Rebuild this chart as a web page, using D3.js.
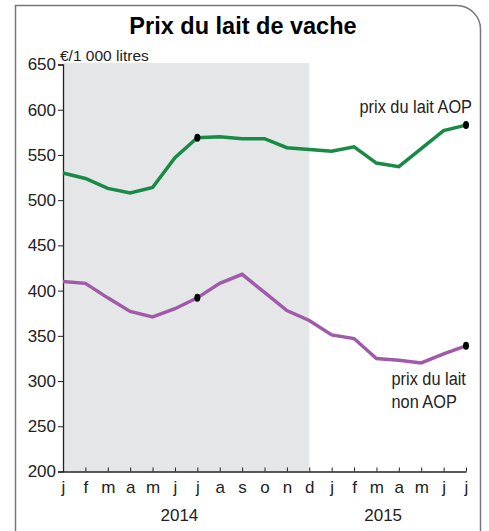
<!DOCTYPE html>
<html>
<head>
<meta charset="utf-8">
<script src="https://cdn.jsdelivr.net/npm/d3@7"></script>
<style>
  body { margin: 0; background: #fff; }
  svg { display: block; font-family: "Liberation Sans", Arial, sans-serif; }
</style>
</head>
<body>
<div id="chart"></div>
<script>
// Données
const months = ["j", "f", "m", "a", "m", "j", "j", "a", "s", "o", "n", "d", "j", "f", "m", "a", "m", "j", "j"];
const years = ["2014", "2015"];
const aop = [530, 524, 513, 508, 514, 547, 569, 570, 568, 568, 558, 556, 554, 559, 541, 537, 557, 577, 583];
const nonAop = [410, 408, 392, 377, 371, 380, 392, 408, 418, 398, 378, 367, 351, 347, 325, 323, 320, 330, 339];
const yTicks = [200, 250, 300, 350, 400, 450, 500, 550, 600, 650];

const width = 489;
const height = 531;

const svg = d3.select("#chart").append("svg")
  .attr("width", width)
  .attr("height", height);

// Cadre arrondi en haut à droite
const fx0 = 15.5, fx1 = 480.5, fy0 = 5.5, r = 24;
svg.append("path")
  .attr("d", `M${fx0},${height + 5} V${fy0} H${fx1 - r} A${r},${r} 0 0 1 ${fx1},${fy0 + r} V${height + 5}`)
  .attr("fill", "none")
  .attr("stroke", "#777")
  .attr("stroke-width", 1.5);

// Titre
svg.append("text")
  .attr("x", 243)
  .attr("y", 34)
  .attr("text-anchor", "middle")
  .attr("font-weight", "bold")
  .attr("font-size", 23.5)
  .text("Prix du lait de vache");

// Echelles
const x = d3.scaleLinear().domain([0, months.length - 1]).range([63, 466]);
const y = d3.scaleLinear().domain([200, 650]).range([471.5, 64.5]);

// Zone grisée 2014
svg.append("rect")
  .attr("x", x(0))
  .attr("y", y(650) - 1.5)
  .attr("width", x(11) - x(0))
  .attr("height", y(200) - y(650) + 1.5)
  .attr("fill", "#e5e6e8");

// Axe Y
const yAxis = svg.append("g")
  .attr("transform", `translate(${x(0)},0)`)
  .call(d3.axisLeft(y).tickValues(yTicks).tickSize(5).tickPadding(2));
yAxis.select(".domain").attr("stroke", "#222").attr("stroke-width", 1.3);
yAxis.selectAll(".tick line").attr("stroke", "#222");
yAxis.selectAll("text")
  .attr("font-size", 17)
  .attr("font-family", "Liberation Sans, Arial, sans-serif")
  .attr("fill", "#222");

svg.append("text")
  .attr("x", 60)
  .attr("y", 61)
  .attr("font-size", 15.5)
  .attr("fill", "#222")
  .text("€/1 000 litres");

// Axe X
const xAxis = svg.append("g")
  .attr("transform", `translate(0,${y(200)})`)
  .call(d3.axisBottom(x)
    .tickValues(d3.range(months.length))
    .tickFormat((i) => months[i])
    .tickSizeInner(-4)
    .tickSizeOuter(0)
    .tickPadding(9));
xAxis.select(".domain").attr("stroke", "#222").attr("stroke-width", 1.3);
xAxis.selectAll(".tick line").attr("stroke", "#222");
xAxis.selectAll("text")
  .attr("font-size", 17)
  .attr("font-family", "Liberation Sans, Arial, sans-serif")
  .attr("fill", "#222");

// Années
svg.selectAll(".year")
  .data(years)
  .join("text")
  .attr("class", "year")
  .attr("x", (d, i) => (i === 0 ? x(5.2) : x(14.3)))
  .attr("y", 521)
  .attr("text-anchor", "middle")
  .attr("font-size", 17)
  .attr("fill", "#222")
  .text((d) => d);

// Courbes
const line = d3.line()
  .x((d, i) => x(i))
  .y((d) => y(d));

svg.append("path")
  .datum(aop)
  .attr("d", line)
  .attr("fill", "none")
  .attr("stroke", "#178a45")
  .attr("stroke-width", 3.5);

svg.append("path")
  .datum(nonAop)
  .attr("d", line)
  .attr("fill", "none")
  .attr("stroke", "#a05aaa")
  .attr("stroke-width", 3.5);

// Points noirs (juillet 2014 et juillet 2015)
const dotIdx = [6, 18];
[aop, nonAop].forEach((series) => {
  svg.selectAll(null)
    .data(dotIdx)
    .join("ellipse")
    .attr("cx", (i) => x(i))
    .attr("cy", (i) => y(series[i]))
    .attr("rx", 3)
    .attr("ry", 4)
    .attr("fill", "#000");
});

// Libellés des courbes (police étroite simulée par un facteur horizontal)
const narrow = 0.86;
svg.append("text")
  .attr("transform", `translate(472,113) scale(${narrow},1)`)
  .attr("text-anchor", "end")
  .attr("font-size", 19)
  .attr("fill", "#222")
  .text("prix du lait AOP");

svg.append("text")
  .attr("transform", `translate(391.5,385) scale(${narrow},1)`)
  .attr("font-size", 19)
  .attr("fill", "#222")
  .selectAll("tspan")
  .data(["prix du lait", "non AOP"])
  .join("tspan")
  .attr("x", 0)
  .attr("dy", (d, i) => (i === 0 ? 0 : 23))
  .text((d) => d);
</script>
</body>
</html>
